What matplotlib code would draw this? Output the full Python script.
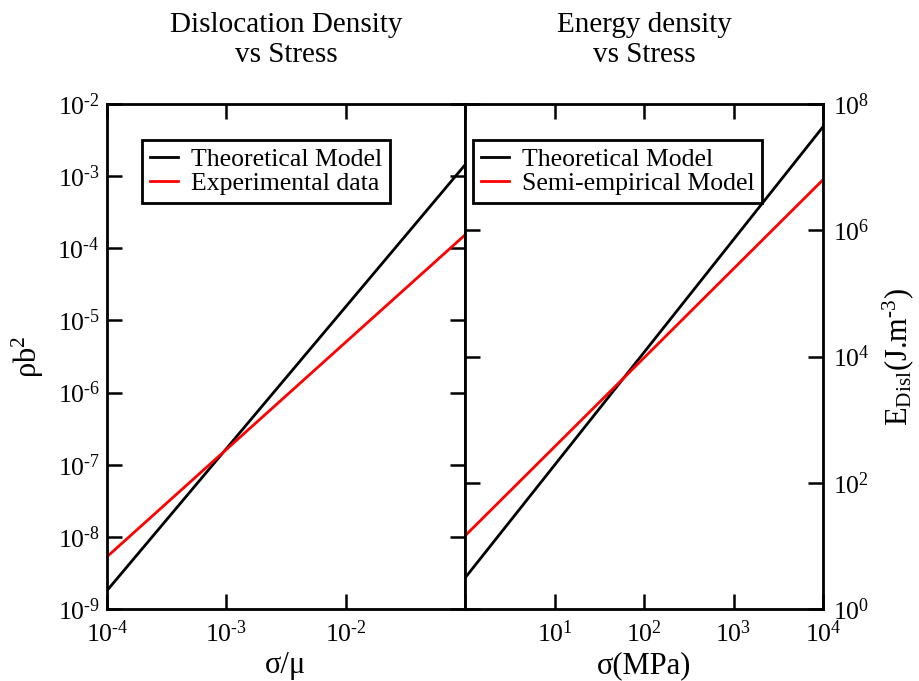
import matplotlib
matplotlib.use("Agg")
import matplotlib.pyplot as plt
from matplotlib.ticker import FixedLocator, NullLocator

plt.rcParams['font.family'] = ['Liberation Serif', 'DejaVu Serif']
plt.rcParams['mathtext.fontset'] = 'custom'
plt.rcParams['mathtext.rm'] = 'Liberation Serif'
plt.rcParams['mathtext.it'] = 'Liberation Serif:italic'

# data (end points of the power-law lines)
stress_ratio = [1e-4, 1e-1]
rho_theory = [1.8e-9, 1.43e-3]
rho_exp = [5.3e-9, 1.53e-4]

stress_mpa = [1.0, 1e4]
energy_theory = [3.1, 4.35e7]
energy_semi = [14.4, 6.3e6]

left_xticks = [1e-4, 1e-3, 1e-2, 1e-1]
left_xlabels = [-4, -3, -2, None]
left_yticks = [10.0 ** e for e in range(-9, -1)]
left_ylabels = list(range(-9, -1))
right_xticks = [1, 10, 100, 1000, 1e4]
right_xlabels = [None, 1, 2, 3, 4]
right_yticks = [1, 1e2, 1e4, 1e6, 1e8]
right_ylabels = [0, 2, 4, 6, 8]

lw = 2.0
HYPH = '\u2010'  # plain hyphen like the original, not a math minus


def pow10(e):
    if e is None:
        return ''
    s = str(e).replace('-', HYPH)
    return r'$\mathregular{10^{%s}}$' % s


fig = plt.figure(figsize=(9.19, 6.81), dpi=100)
ax1 = fig.add_axes([107 / 919, 1 - 609 / 681, 358 / 919, 505 / 681])
ax2 = fig.add_axes([465 / 919, 1 - 609 / 681, 358 / 919, 505 / 681])

ax1.plot(stress_ratio, rho_theory, color='black', lw=lw, label='Theoretical Model')
ax1.plot(stress_ratio, rho_exp, color='red', lw=lw, label='Experimental data')
ax1.set_xscale('log')
ax1.set_yscale('log')
ax1.set_xlim(1e-4, 1e-1)
ax1.set_ylim(1e-9, 1e-2)

ax2.plot(stress_mpa, energy_theory, color='black', lw=lw, label='Theoretical Model')
ax2.plot(stress_mpa, energy_semi, color='red', lw=lw, label='Semi-empirical Model')
ax2.set_xscale('log')
ax2.set_yscale('log')
ax2.set_xlim(1, 1e4)
ax2.set_ylim(1, 1e8)

for ax in (ax1, ax2):
    for s in ax.spines.values():
        s.set_linewidth(2.0)
    ax.tick_params(which='major', direction='in', length=11, width=1.8,
                   top=True, right=True, labelsize=18.5)
    ax.tick_params(axis='x', pad=8)
    ax.xaxis.set_minor_locator(NullLocator())
    ax.yaxis.set_minor_locator(NullLocator())

ax1.xaxis.set_major_locator(FixedLocator(left_xticks))
ax1.set_xticklabels([pow10(e) for e in left_xlabels])
ax1.yaxis.set_major_locator(FixedLocator(left_yticks))
ax1.set_yticklabels([pow10(e) for e in left_ylabels])
ax1.tick_params(axis='y', pad=5)

ax2.xaxis.set_major_locator(FixedLocator(right_xticks))
ax2.set_xticklabels([pow10(e) for e in right_xlabels])
ax2.yaxis.set_major_locator(FixedLocator(right_yticks))
ax2.set_yticklabels([pow10(e) for e in right_ylabels])
ax2.tick_params(axis='y', labelleft=False, labelright=True, pad=7)

ax1.set_xlabel('σ/μ', fontsize=22, labelpad=3)
ax2.set_xlabel('σ(MPa)', fontsize=22, labelpad=3)
ax1.set_ylabel(r'ρb$\mathregular{^2}$', fontsize=22, labelpad=8)
ax2.yaxis.set_label_position('right')
ax2.set_ylabel(r'E$_\mathregular{Disl}$(J.m$^\mathregular{' + HYPH + '3}$)',
               fontsize=22, labelpad=8)

leg_kw = dict(fontsize=18.5, frameon=True, fancybox=False, edgecolor='black',
              handlelength=1.1, handletextpad=0.5, labelspacing=0.05,
              borderpad=0.3, borderaxespad=0)
l1 = ax1.legend(loc='upper left', bbox_to_anchor=(0.098, 0.929), **leg_kw)
l2 = ax2.legend(loc='upper left', bbox_to_anchor=(0.022, 0.929), **leg_kw)
for lg in (l1, l2):
    lg.get_frame().set_linewidth(2.0)
    lg.get_frame().set_alpha(1)

titles = [('Dislocation Density', 'vs Stress', 286), ('Energy density', 'vs Stress', 644)]
for line1, line2, xc in titles:
    fig.text(xc / 919, 1 - 32 / 681, line1, ha='center', va='baseline', fontsize=21)
    fig.text(xc / 919, 1 - 62 / 681, line2, ha='center', va='baseline', fontsize=21)

fig.savefig('out.png', dpi=100)
